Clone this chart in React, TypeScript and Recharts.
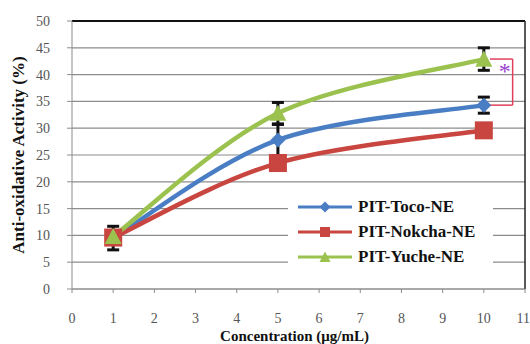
import {
  CartesianGrid,
  ErrorBar,
  Legend,
  Line,
  LineChart,
  ReferenceDot,
  ReferenceLine,
  XAxis,
  YAxis,
} from "recharts"

const concentrations = [1, 5, 10]
const tocoValues = [9.5, 27.8, 34.3]
const tocoErrors = [2.2, 2.9, 1.5]
const nokchaValues = [9.6, 23.5, 29.6]
const nokchaErrors = [1.0, 1.2, 1.2]
const yucheValues = [9.8, 32.8, 42.9]
const yucheErrors = [1.0, 2.0, 2.1]

const xTicks = [0, 1, 2, 3, 4, 5, 6, 7, 8, 9, 10, 11]
const yTicks = [0, 5, 10, 15, 20, 25, 30, 35, 40, 45, 50]

// significance bracket between Yuche and Toco at 10 ug/mL
const bracketLeft = 10.15
const bracketRight = 10.7
const bracketTop = 42.9
const bracketBottom = 34.3

const SERIF = "'Liberation Serif', 'Times New Roman', serif"
const BLUE = "#4a7ec4"
const RED = "#c9453f"
const GREEN = "#9bc24f"

const data = concentrations.map((c, i) => ({
  x: c,
  toco: tocoValues[i],
  tocoErr: tocoErrors[i],
  nokcha: nokchaValues[i],
  nokchaErr: nokchaErrors[i],
  yuche: yucheValues[i],
  yucheErr: yucheErrors[i],
}))

// spreadsheet-style smoothed line (Catmull-Rom through the points)
const smoothCurve = (context: any) => {
  let pts: number[][] = []
  return {
    areaStart() {},
    areaEnd() {},
    lineStart() {
      pts = []
    },
    point(x: number, y: number) {
      pts.push([+x, +y])
    },
    lineEnd() {
      if (!pts.length) return
      context.moveTo(pts[0][0], pts[0][1])
      for (let i = 0; i < pts.length - 1; i++) {
        const p0 = pts[Math.max(i - 1, 0)]
        const p1 = pts[i]
        const p2 = pts[i + 1]
        const p3 = pts[Math.min(i + 2, pts.length - 1)]
        context.bezierCurveTo(
          p1[0] + (p2[0] - p0[0]) / 6,
          p1[1] + (p2[1] - p0[1]) / 6,
          p2[0] - (p3[0] - p1[0]) / 6,
          p2[1] - (p3[1] - p1[1]) / 6,
          p2[0],
          p2[1]
        )
      }
    },
  }
}

type Shape = "diamond" | "square" | "triangle"

const marker = (shape: Shape, cx: number, cy: number, s: number, color: string) => {
  if (shape === "square") {
    return <rect x={cx - s / 2} y={cy - s / 2} width={s} height={s} fill={color} />
  }
  if (shape === "diamond") {
    const h = s / 2
    return <polygon points={`${cx},${cy - h} ${cx + h},${cy} ${cx},${cy + h} ${cx - h},${cy}`} fill={color} />
  }
  const h = s / 2
  return <polygon points={`${cx},${cy - h} ${cx + h},${cy + h * 0.9} ${cx - h},${cy + h * 0.9}`} fill={color} />
}

const makeDot = (shape: Shape, size: number, color: string) => (props: any) => {
  const { cx, cy, index } = props
  return <g key={`${shape}-${index}`}>{marker(shape, cx, cy, size, color)}</g>
}

const legendItems: { label: string; color: string; shape: Shape; size: number }[] = [
  { label: "PIT-Toco-NE", color: BLUE, shape: "diamond", size: 11 },
  { label: "PIT-Nokcha-NE", color: RED, shape: "square", size: 10 },
  { label: "PIT-Yuche-NE", color: GREEN, shape: "triangle", size: 11 },
]

const LegendBox = () => (
  <div
    style={{
      background: "#fff",
      width: 205,
      height: 76,
      paddingTop: 0,
      boxSizing: "border-box",
      fontFamily: SERIF,
      fontWeight: "bold",
      fontSize: 17,
      color: "#111",
    }}
  >
    {legendItems.map((it) => (
      <div key={it.label} style={{ display: "flex", alignItems: "center", height: 25 }}>
        <svg width={66} height={16} style={{ marginLeft: 8 }}>
          <line x1={2} y1={8} x2={56} y2={8} stroke={it.color} strokeWidth={3} />
          {marker(it.shape, 29, 8, it.size, it.color)}
        </svg>
        <span style={{ marginLeft: -4 }}>{it.label}</span>
      </div>
    ))}
  </div>
)

const tickStyle = { fontSize: 14, fill: "#555", fontFamily: SERIF }

export default function App() {
  return (
    <div style={{ position: "absolute", left: 0, top: 0, width: 530, height: 344, background: "#fff" }}>
      <LineChart width={530} height={344} data={data} margin={{ top: 21, right: 5, bottom: 0, left: 0 }}>
        <CartesianGrid vertical={false} stroke="#8c8c8c" strokeWidth={1.2} />
        <XAxis
          dataKey="x"
          type="number"
          domain={[0, 11]}
          ticks={xTicks}
          height={55}
          stroke="#8c8c8c"
          tickSize={4}
          tickMargin={20}
          tick={tickStyle}
          label={{
            value: "Concentration (μg/mL)",
            position: "insideBottom",
            offset: 3,
            dx: -4,
            style: { fontFamily: SERIF, fontWeight: "bold", fontSize: 15, fill: "#111" },
          }}
        />
        <YAxis
          type="number"
          domain={[0, 50]}
          ticks={yTicks}
          width={72}
          stroke="#8c8c8c"
          tickSize={5}
          tickMargin={17}
          tick={tickStyle}
          label={{
            content: () => (
              <text
                x={18}
                y={155}
                transform="rotate(-90 18 155)"
                textAnchor="middle"
                dominantBaseline="central"
                style={{ fontFamily: SERIF, fontWeight: "bold", fontSize: 17, fill: "#111" }}
              >
                Anti-oxidative Activity (%)
              </text>
            ),
          }}
        />
        <ReferenceLine y={50} stroke="#111" strokeWidth={2} />
        <ReferenceLine x={11} stroke="#222" strokeWidth={1.5} />
        <Legend
          layout="vertical"
          align="center"
          verticalAlign="middle"
          content={() => <LegendBox />}
          wrapperStyle={{ left: 288, top: 194, width: 205, height: 76 }}
        />
        <Line
          type={smoothCurve as any}
          dataKey="toco"
          stroke={BLUE}
          strokeWidth={4.5}
          dot={makeDot("diamond", 15, BLUE)}
          isAnimationActive={false}
        >
          <ErrorBar dataKey="tocoErr" direction="y" width={6} stroke="#111" strokeWidth={3} />
        </Line>
        <Line
          type={smoothCurve as any}
          dataKey="nokcha"
          stroke={RED}
          strokeWidth={4.5}
          dot={makeDot("square", 18, RED)}
          isAnimationActive={false}
        >
          <ErrorBar dataKey="nokchaErr" direction="y" width={6} stroke="#111" strokeWidth={3} />
        </Line>
        <Line
          type={smoothCurve as any}
          dataKey="yuche"
          stroke={GREEN}
          strokeWidth={4.5}
          dot={makeDot("triangle", 17, GREEN)}
          isAnimationActive={false}
        >
          <ErrorBar dataKey="yucheErr" direction="y" width={6} stroke="#111" strokeWidth={3} />
        </Line>
        <ReferenceLine
          segment={[{ x: bracketLeft, y: bracketTop }, { x: bracketRight, y: bracketTop }]}
          stroke="#e0405a"
          strokeWidth={1.5}
          ifOverflow="visible"
        />
        <ReferenceLine
          segment={[{ x: bracketRight, y: bracketTop }, { x: bracketRight, y: bracketBottom }]}
          stroke="#e0405a"
          strokeWidth={1.5}
          ifOverflow="visible"
        />
        <ReferenceLine
          segment={[{ x: bracketLeft, y: bracketBottom }, { x: bracketRight, y: bracketBottom }]}
          stroke="#e0405a"
          strokeWidth={1.5}
          ifOverflow="visible"
        />
        <ReferenceDot
          x={10.51}
          y={41.2}
          r={0}
          stroke="none"
          ifOverflow="visible"
          label={{ value: "*", position: "center", dy: 2, style: { fontSize: 24, fill: "#9a3fd0", fontFamily: SERIF } }}
        />
      </LineChart>
    </div>
  )
}
